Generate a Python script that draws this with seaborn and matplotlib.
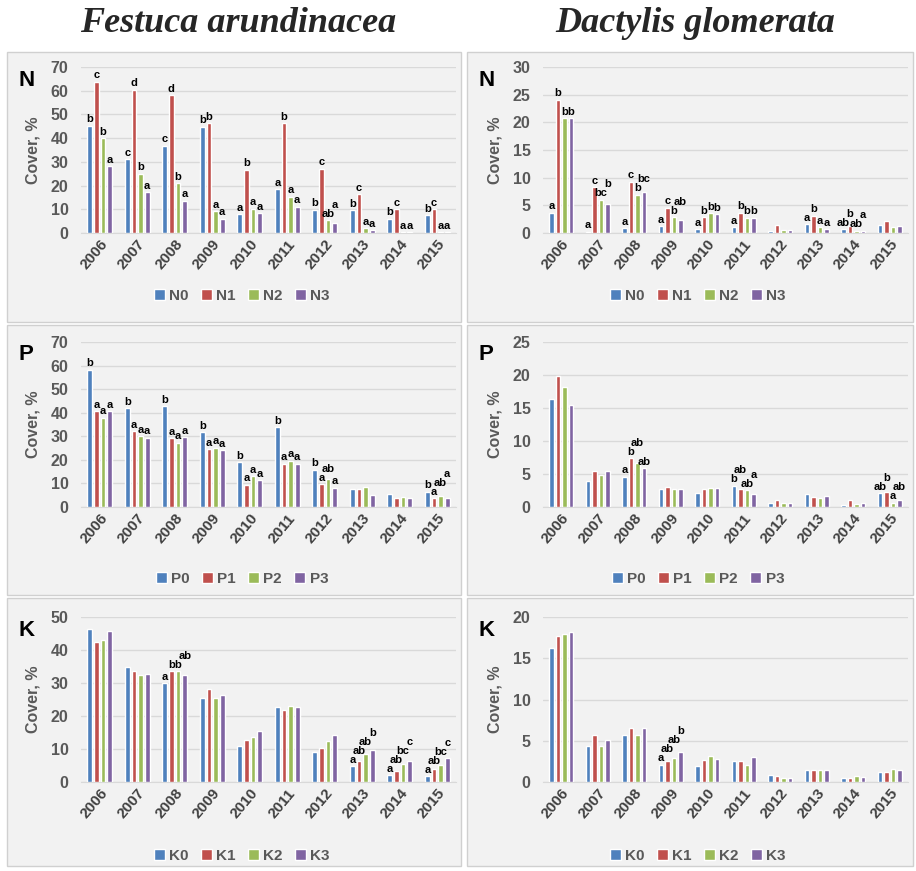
import numpy as np
import pandas as pd
import matplotlib.pyplot as plt
import seaborn as sns
from matplotlib.patches import Rectangle

# years on the x axis
years = [str(y) for y in range(2006, 2016)]

# Festuca arundinacea, cover %
fest_N = {"N0": [45.3, 31, 36.8, 44.8, 7.9, 18.6, 9.9, 9.6, 6.1, 7.4],
          "N1": [63.8, 60.5, 58.1, 46.2, 26.7, 46.4, 27.1, 16.4, 10.1, 10.1],
          "N2": [40, 25, 21, 9.2, 10.3, 15.3, 5.3, 2.0, 0.4, 0.4],
          "N3": [28.2, 17.3, 13.6, 6.0, 8.3, 11.1, 4.1, 1.3, 0.4, 0.4]}
fest_N_let = ["b c b a", "c d b a", "c d b a", "b b a a", "a b a a",
              "a b a a", "b c ab a", "b c a a", "b c a a", "b c a a"]

fest_P = {"P0": [58.2, 41.8, 42.8, 31.7, 18.9, 33.8, 15.9, 7.7, 5.6, 6.5],
          "P1": [40.7, 32.1, 29.3, 24.5, 9.4, 18.3, 9.7, 7.7, 3.8, 3.8],
          "P2": [37.9, 30.1, 27.3, 25.2, 13.0, 19.6, 11.8, 8.6, 4.1, 4.5],
          "P3": [40.7, 29.4, 29.7, 24.1, 11.4, 18.3, 8.2, 4.9, 3.8, 3.8]}
fest_P_let = ["b a a a", "b a a a", "b a a a", "b a a a", "b a a a",
              "b a a a", "b a ab a", "", "", "b a ab a"]

fest_K = {"K0": [46.3, 34.9, 30.0, 25.6, 11.0, 22.8, 9.0, 4.7, 2.0, 1.7],
          "K1": [42.5, 33.7, 33.5, 28.3, 12.8, 21.9, 10.2, 6.4, 3.2, 4.0],
          "K2": [43.0, 32.3, 33.5, 25.6, 13.7, 23.1, 12.4, 8.5, 5.6, 5.3],
          "K3": [45.7, 32.8, 32.5, 26.5, 15.4, 22.8, 14.3, 9.8, 6.5, 7.3]}
fest_K_let = ["", "", "a b b ab", "", "", "", "", "a ab ab b", "a ab bc c", "a ab bc c"]

# Dactylis glomerata, cover %
dact_N = {"N0": [3.7, 0.25, 0.9, 1.2, 0.66, 1.1, 0.3, 1.6, 0.66, 1.4],
          "N1": [24.1, 8.3, 9.3, 4.6, 2.9, 3.7, 1.4, 3.1, 1.2, 2.2],
          "N2": [20.8, 6.0, 6.9, 2.9, 3.6, 2.8, 0.5, 1.0, 0.4, 1.0],
          "N3": [20.8, 5.3, 7.4, 2.4, 3.4, 2.8, 0.5, 0.66, 0.3, 1.2]}
dact_N_let = ["a b b b", "a c bc b", "a c b bc", "a c b ab", "a b b b",
              "a b b b", "", "a b a a", "ab b ab a", ""]

dact_P = {"P0": [16.3, 3.9, 4.6, 2.8, 2.1, 3.2, 0.6, 1.9, 0.35, 2.1],
          "P1": [19.9, 5.5, 7.4, 3.1, 2.8, 2.7, 1.1, 1.5, 1.1, 2.2],
          "P2": [18.2, 4.9, 6.6, 2.8, 2.9, 2.5, 0.6, 1.4, 0.45, 0.65],
          "P3": [15.4, 5.5, 5.9, 2.8, 2.9, 1.9, 0.6, 1.6, 0.65, 1.05]}
dact_P_let = ["", "", "a b ab ab", "", "", "b ab ab a", "", "", "", "ab b a ab"]

dact_K = {"K0": [16.2, 4.4, 5.7, 2.1, 1.9, 2.6, 0.8, 1.5, 0.5, 1.25],
          "K1": [17.7, 5.7, 6.5, 2.55, 2.7, 2.5, 0.7, 1.5, 0.5, 1.25],
          "K2": [17.9, 4.4, 5.7, 2.9, 3.2, 2.1, 0.5, 1.4, 0.7, 1.6],
          "K3": [18.2, 5.1, 6.5, 3.6, 2.8, 3.0, 0.5, 1.5, 0.6, 1.4]}
dact_K_let = ["", "", "", "a ab ab b", "", "", "", "", "", ""]

colors = ["#4F81BD", "#C0504D", "#9BBB59", "#8064A2"]

sns.set_style("white")
plt.rcParams['font.family'] = ['Liberation Sans', 'DejaVu Sans']

W, H = 916, 871
fig = plt.figure(figsize=(W / 100, H / 100), dpi=100)


def frac(x0, y0, x1, y1):
    # pixel box (top-left origin) -> figure fraction [l, b, w, h]
    return [x0 / W, 1 - y1 / H, (x1 - x0) / W, (y1 - y0) / H]


cols = [((7, 461), (81, 456)), ((467, 913), (543, 908))]
rows = [((52, 322), (67, 233), 296), ((325, 595), (342, 507), 579), ((598, 866), (617, 782), 856)]

panels = [
    (0, 0, "N", fest_N, fest_N_let, 70, 10),
    (0, 1, "P", fest_P, fest_P_let, 70, 10),
    (0, 2, "K", fest_K, fest_K_let, 50, 10),
    (1, 0, "N", dact_N, dact_N_let, 30, 5),
    (1, 1, "P", dact_P, dact_P_let, 25, 5),
    (1, 2, "K", dact_K, dact_K_let, 20, 5),
]

groups = []  # letter annotations, one list per year group

for c, r, tag, data, lets, ymax, step in panels:
    (px0, px1), (ax0, ax1) = cols[c]
    (py0, py1), (ay0, ay1), leg_y = rows[r]

    # grey panel background, behind the axes
    fig.patches.append(Rectangle((px0 / W, 1 - py1 / H), (px1 - px0) / W, (py1 - py0) / H,
                                 transform=fig.transFigure, facecolor="#f2f2f2",
                                 edgecolor="#d0d0d0", lw=1, zorder=-5))

    ax = fig.add_axes(frac(ax0, ay0, ax1, ay1))
    ax.set_facecolor("none")

    df = pd.DataFrame([(y, k, v[i]) for k, v in data.items() for i, y in enumerate(years)],
                      columns=["year", "trt", "cover"])
    sns.barplot(data=df, x="year", y="cover", hue="trt", palette=colors, order=years,
                hue_order=list(data.keys()), width=0.71, gap=0.3, saturation=1,
                errorbar=None, ax=ax, zorder=3)

    # significance letters
    for i in range(len(years)):
        parts = lets[i].split()
        if not parts:
            continue
        grp = []
        for j, cont in enumerate(ax.containers):
            bar = cont[i]
            t = ax.annotate(parts[j], (bar.get_x() + bar.get_width() / 2, bar.get_height()),
                            xytext=(0, 1), textcoords="offset points", ha="center", va="bottom",
                            fontsize=8, fontweight="bold", color="black", zorder=4)
            grp.append(t)
        groups.append(grp)

    ax.set_xlim(-0.5, 9.5)
    ax.set_ylim(0, ymax)
    ax.set_yticks(np.arange(0, ymax + 0.1, step))
    ax.yaxis.grid(True, color="#d9d9d9", lw=1, zorder=0)
    ax.set_axisbelow(True)
    for s in ["top", "right", "left"]:
        ax.spines[s].set_visible(False)
    ax.spines["bottom"].set_color("#d9d9d9")
    ax.tick_params(axis="both", length=0)
    ax.tick_params(axis="y", pad=9, labelsize=11.5, labelcolor="#595959")
    ax.tick_params(axis="x", pad=3, labelsize=11, labelcolor="#404040")
    for t in ax.get_yticklabels():
        t.set_fontweight("bold")
    plt.setp(ax.get_xticklabels(), rotation=50, ha="right", rotation_mode="anchor",
             fontweight="bold")
    ax.set_xlabel("")
    ax.set_ylabel("Cover, %", fontsize=11.5, fontweight="bold", color="#595959", labelpad=7)

    handles, labels = ax.get_legend_handles_labels()
    ax.get_legend().remove()
    fig.legend(handles, labels, loc="center", bbox_to_anchor=(((px0 + px1) / 2 + 8) / W, 1 - leg_y / H),
               ncol=4, frameon=False, handlelength=0.7, handleheight=0.7, handletextpad=0.3,
               columnspacing=0.8, prop={"weight": "bold", "size": 11}, labelcolor="#595959")

    fig.text((px0 + 11) / W, 1 - (ay0 + 13) / H, tag, fontsize=16, fontweight="bold",
             ha="left", va="center", color="black")

fig.text(238 / W, 1 - 24 / H, "Festuca arundinacea", fontsize=26, fontweight="bold",
         fontstyle="italic", family="Liberation Serif", ha="center", va="center")
fig.text(695 / W, 1 - 24 / H, "Dactylis glomerata", fontsize=26, fontweight="bold",
         fontstyle="italic", family="Liberation Serif", ha="center", va="center")

# lift letters that would collide with a neighbour in the same group
fig.canvas.draw()
rend = fig.canvas.get_renderer()
for grp in groups:
    placed = []
    for t in grp:
        bb = t.get_window_extent(rend)
        shift = 0.0
        moved = True
        while moved:
            moved = False
            for pb in placed:
                if (bb.x1 > pb.x0 + 0.5 and bb.x0 < pb.x1 - 0.5
                        and bb.y0 + shift < pb.y1 - 1 and bb.y1 + shift > pb.y0):
                    shift = pb.y1 - 1 - bb.y0
                    moved = True
        if shift > 0:
            t.xyann = (0, 1 + shift * 72 / 100)
            bb = t.get_window_extent(rend)
        placed.append(bb)

fig.savefig("out.png", dpi=100, facecolor="white")
